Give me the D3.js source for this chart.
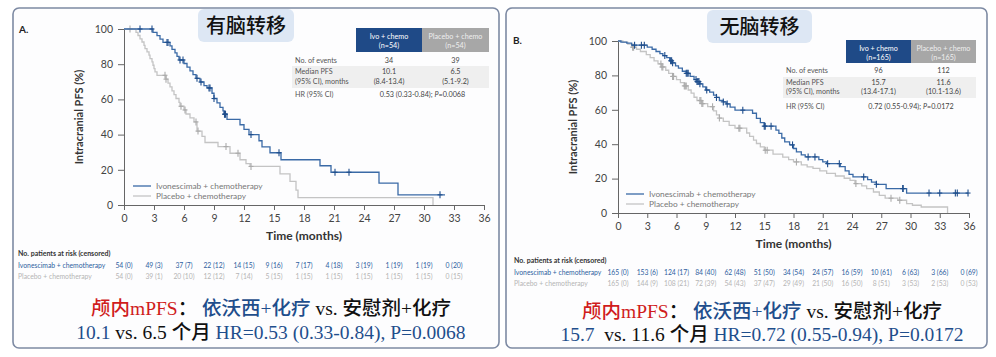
<!DOCTYPE html>
<html><head><meta charset="utf-8">
<script src="https://cdn.jsdelivr.net/npm/d3@7"></script>
<style>body{margin:0;background:#fff}svg{display:block}</style>
</head><body>
<svg id="c" width="996" height="357"></svg>
<script>
// ---------------- DATA ----------------
const xTicks = [0,3,6,9,12,15,18,21,24,27,30,33,36];
const yTicks = [0,20,40,60,80,100];
const riskMonths = [0,3,6,9,12,15,18,21,24,27,30,33];

// Panel A (with brain metastases): KM steps [month, survival %]
const A_ivo_steps = [[0,100],[2.9,98.1],[3.3,96.2],[3.6,94.3],[3.9,92.4],[4.6,90.4],[4.8,88.4],[5.1,86.4],[5.3,84.4],[5.5,82.4],[6.0,80.4],[6.3,78.3],[6.6,76.2],[6.9,74.1],[7.2,72.0],[7.6,69.9],[8.0,67.8],[8.3,66.5],[8.8,63.5],[9.0,60.5],[9.3,58.0],[9.6,55.5],[9.9,53.5],[10.0,51.6],[10.3,48.6],[11.6,45.6],[12.0,43.0],[12.5,40.0],[13.5,36.5],[13.8,33.0],[14.6,29.7],[15.7,25.7],[19.6,22.3],[20.7,18.6],[25.5,12.4],[27.4,5.8],[32.1,5.8]];
const A_ivo_censor = [1.6,2.8,4.3,4.4,5.6,5.9,7.3,7.7,8.5,8.6,9.0,10.05,10.1,10.15,12.7,15.5,21.1,22.5,31.6];
const A_pbo_steps = [[0,100],[1.2,98.1],[1.4,96.3],[1.6,94.4],[1.8,92.6],[2.0,90.7],[2.1,88.9],[2.3,87.0],[2.5,85.1],[2.6,83.2],[2.8,81.3],[2.9,79.4],[3.0,77.5],[3.1,75.6],[3.3,73.7],[4.2,71.5],[4.4,69.3],[4.6,67.1],[4.8,64.9],[5.0,62.7],[5.2,60.5],[5.5,58.3],[5.6,56.1],[6.0,54.0],[6.2,51.7],[6.6,49.5],[7.0,47.2],[7.3,42.0],[7.8,39.0],[8.1,35.5],[9.4,33.2],[10.6,29.4],[11.6,25.7],[12.2,23.5],[12.6,21.9],[15.6,17.7],[16.6,13.4],[17.2,8.5],[17.4,4.2],[30.9,0]];
const A_pbo_censor = [0.6,4.1,4.2,5.7,6.1,7.2,7.4,10.2,11.4,12.7];

// Panel B (without brain metastases)
const B_ivo_steps = [[0,100],[0.3,99.4],[0.9,98.8],[1.4,97.6],[3.0,96.4],[3.5,95.2],[3.9,93.9],[4.3,92.7],[4.6,91.5],[5.0,90.3],[5.3,88.5],[5.6,87.3],[5.9,85.5],[6.2,84.2],[6.6,82.4],[7.0,81.2],[7.4,79.4],[7.8,77.6],[8.1,76.4],[8.4,75.1],[8.7,73.3],[9.0,71.5],[9.4,70.3],[9.8,68.5],[10.1,67.2],[10.4,65.4],[10.8,64.6],[11.1,63.4],[11.5,61.6],[12.0,59.8],[13.8,58.0],[14.2,55.0],[14.6,52.6],[15.0,50.5],[16.2,48.2],[16.5,46.3],[16.8,43.6],[17.1,41.4],[17.6,39.6],[18.0,37.5],[18.3,35.5],[18.8,33.8],[19.2,32.6],[20.6,31.0],[21.0,29.7],[21.4,28.7],[22.8,27.0],[23.3,24.5],[23.7,22.5],[24.1,21.0],[25.6,19.4],[26.0,18.0],[26.5,16.7],[27.5,14.2],[29.6,11.6],[35.9,11.6]];
const B_ivo_censor = [1.7,2.4,2.7,4.8,5.4,5.5,5.6,7.0,7.1,7.2,8.0,8.1,8.2,8.3,8.4,9.1,10.1,10.8,11.2,12.8,15.0,15.1,15.7,17.9,19.5,20.2,21.5,22.7,25.2,26.5,29.2,29.25,31.9,33.0,34.6,34.8,35.9];
const B_pbo_steps = [[0,100],[0.5,99.4],[1.0,98.2],[1.4,96.4],[1.9,95.2],[2.3,93.9],[2.9,92.1],[3.3,90.3],[3.7,88.5],[4.1,86.7],[4.5,84.9],[4.9,83.0],[5.2,81.2],[5.6,79.4],[6.0,77.6],[6.4,75.8],[6.8,73.9],[7.2,71.5],[7.5,69.7],[7.8,67.3],[8.1,65.4],[8.6,63.6],[9.2,61.8],[9.8,59.4],[10.1,57.0],[10.4,55.2],[10.8,53.3],[11.4,51.0],[12.0,49.3],[13.2,46.5],[13.5,44.5],[13.9,42.4],[14.2,40.4],[14.6,38.4],[15.0,36.5],[15.9,34.2],[16.9,32.5],[17.5,31.0],[18.0,29.7],[18.8,28.0],[19.4,26.8],[20.0,25.9],[20.7,24.5],[21.4,23.0],[22.3,21.5],[23.2,20.2],[23.8,19.0],[24.3,17.1],[25.0,15.8],[25.5,14.2],[26.2,12.2],[26.8,10.3],[27.4,8.6],[28.7,7.4],[29.6,5.5],[30.2,4.5],[31.1,3.5],[33.8,0]];
const B_pbo_censor = [1.5,1.6,4.4,4.5,4.6,5.6,5.7,6.8,6.9,7.0,8.4,8.5,8.6,8.7,9.7,10.4,12.4,12.5,15.1,15.3,18.3,24.4,28.0,28.9];

// Risk tables
const A_risk_ivo = ["54 (0)","49 (3)","37 (7)","22 (12)","14 (15)","9 (16)","7 (17)","4 (18)","3 (19)","1 (19)","1 (19)","0 (20)"];
const A_risk_pbo = ["54 (0)","39 (1)","20 (10)","12 (12)","7 (14)","5 (15)","1 (15)","1 (15)","1 (15)","1 (15)","1 (15)","0 (15)"];
const B_risk_ivo = ["165 (0)","153 (6)","124 (17)","84 (40)","62 (48)","51 (50)","34 (54)","24 (57)","16 (59)","10 (61)","6 (63)","3 (66)","0 (69)"];
const B_risk_pbo = ["165 (0)","144 (9)","108 (21)","72 (39)","54 (43)","37 (47)","29 (49)","21 (50)","16 (50)","8 (51)","3 (53)","2 (53)","0 (53)"];
const riskMonthsB = [0,3,6,9,12,15,18,21,24,27,30,33,36];

// Summary tables
const tableRows = ["No. of events","Median PFS","(95% CI), months","HR (95% CI)"];
const A_table = {n:"(n=54)", events:["34","39"], median:["10.1","6.5"], ci:["(8.4-13.4)","(5.1-9.2)"], hr:"0.53 (0.33-0.84); ", p:"P", pv:"=0.0068"};
const B_table = {n:"(n=165)", events:["96","112"], median:["15.7","11.6"], ci:["(13.4-17.1)","(10.1-13.6)"], hr:"0.72 (0.55-0.94); ", p:"P", pv:"=0.0172"};

const A_bottom2 = [["10.1","#1f4e8c"],[" vs. 6.5 个月 ","#111"],["HR=0.53 (0.33-0.84), P=0.0068","#1f4e8c"]];
const B_bottom2 = [["15.7","#1f4e8c"],["  vs. 11.6 个月 ","#111"],["HR=0.72 (0.55-0.94), P=0.0172","#1f4e8c"]];
const bottom1 = [["颅内mPFS","#d01c1c"],["： ","#111"],["依沃西+化疗","#1f4e8c"],[" vs. ","#111"],["安慰剂+化疗","#111"]];

// ---------------- DRAW ----------------
const svg = d3.select("#c");
const F = "Lato, 'Open Sans', sans-serif";
const BLUE = "#3a6aa6", BLUE_D = "#1f4e8c", GRAY = "#c4c4c4", GRAY_D = "#ababab";

function survAt(steps, t){ let v = steps[0][1]; for(const s of steps){ if(s[0] <= t) v = s[1]; else break; } return v; }

function panel(cfg){
  const g = svg.append("g");
  g.append("rect").attr("x",cfg.box[0]).attr("y",cfg.box[1]).attr("width",cfg.box[2]).attr("height",cfg.box[3])
    .attr("rx",6).attr("fill","#fdfdfe").attr("stroke","#7d8aa3").attr("stroke-width",1.6);
  // title
  g.append("rect").attr("x",cfg.title[0]).attr("y",cfg.title[1]).attr("width",cfg.title[2]).attr("height",cfg.title[3])
    .attr("rx",6).attr("fill","#dde7f4");
  g.append("text").attr("x",cfg.title[0]+cfg.title[2]/2).attr("y",cfg.title[1]+cfg.title[3]/2+7)
    .attr("text-anchor","middle").attr("font-family","'Noto Sans CJK SC'").attr("font-weight",500).attr("font-size",20).attr("fill","#111").text(cfg.titleText);
  g.append("text").attr("x",cfg.label[0]).attr("y",cfg.label[1]).attr("font-family",F).attr("font-weight","bold")
    .attr("font-size",10).attr("fill","#222").text(cfg.labelText);

  const x = d3.scaleLinear().domain([0,36]).range([cfg.x0,cfg.x1]);
  const y = d3.scaleLinear().domain([0,100]).range([cfg.yb,cfg.yt]);

  const xa = g.append("g").attr("transform",`translate(0,${cfg.yb})`)
    .call(d3.axisBottom(x).tickValues(xTicks).tickSize(5).tickPadding(5));
  const ya = g.append("g").attr("transform",`translate(${cfg.x0},0)`)
    .call(d3.axisLeft(y).tickValues(yTicks).tickSize(6).tickPadding(5));
  [xa,ya].forEach(a=>{
    a.selectAll("path,line").attr("stroke","#666").attr("stroke-width",1);
    a.selectAll("text").attr("font-family",F).attr("font-size",10.5).attr("fill","#444");
  });
  g.append("text").attr("x",(cfg.x0+cfg.x1)/2).attr("y",cfg.yb+35).attr("text-anchor","middle")
    .attr("font-family",F).attr("font-weight","bold").attr("font-size",12).attr("fill","#333").text("Time (months)");
  g.append("text").attr("transform",`translate(${cfg.x0-41},${(cfg.yt+cfg.yb)/2}) rotate(-90)`).attr("text-anchor","middle")
    .attr("font-family",F).attr("font-weight","bold").attr("font-size",11).attr("fill","#333").text("Intracranial PFS (%)");

  const line = d3.line().x(d=>x(d[0])).y(d=>y(d[1])).curve(d3.curveStepAfter);
  const series = [[cfg.pbo,cfg.pboC,GRAY,GRAY_D],[cfg.ivo,cfg.ivoC,BLUE,BLUE_D]];
  series.forEach(([st,ce,col,dcol])=>{
    g.append("path").attr("d",line(st)).attr("fill","none").attr("stroke",col).attr("stroke-width",1.3);
    g.selectAll(null).data(ce).enter().append("line")
      .attr("x1",d=>x(d)).attr("x2",d=>x(d)).attr("y1",d=>y(survAt(st,d))-3.5).attr("y2",d=>y(survAt(st,d))+3.5)
      .attr("stroke",dcol).attr("stroke-width",1.1);
    g.selectAll(null).data(ce).enter().append("line")
      .attr("x1",d=>x(d)-2.5).attr("x2",d=>x(d)+2.5).attr("y1",d=>y(survAt(st,d))).attr("y2",d=>y(survAt(st,d)))
      .attr("stroke",dcol).attr("stroke-width",1.1);
  });
  // legend
  [["Ivonescimab + chemotherapy",BLUE],["Placebo + chemotherapy",GRAY]].forEach((d,i)=>{
    const ly = cfg.leg[1]+i*10;
    g.append("line").attr("x1",cfg.leg[0]).attr("x2",cfg.leg[0]+18).attr("y1",ly).attr("y2",ly).attr("stroke",d[1]).attr("stroke-width",1.3);
    g.append("text").attr("x",cfg.leg[0]+23).attr("y",ly+3).attr("font-family",F).attr("font-size",8.3).attr("fill","#777").text(d[0]);
  });

  // summary table
  const t = cfg.tab, T = cfg.tabData;
  g.append("rect").attr("x",t.c1).attr("y",t.h0).attr("width",t.c2-t.c1).attr("height",t.h1-t.h0).attr("fill","#1f4a87");
  g.append("rect").attr("x",t.c2).attr("y",t.h0).attr("width",t.c3-t.c2).attr("height",t.h1-t.h0).attr("fill","#a7a7a7");
  g.append("rect").attr("x",t.lx-3).attr("y",t.mb0).attr("width",t.c3-t.lx+3).attr("height",t.mb1-t.mb0).attr("fill","#efefef");
  const m1=(t.c1+t.c2)/2, m2=(t.c2+t.c3)/2, hm=(t.h0+t.h1)/2;
  const tt=(xx,yy,s,col,anc)=>g.append("text").attr("x",xx).attr("y",yy).attr("text-anchor",anc||"middle")
      .attr("font-family",F).attr("font-size",7.2).attr("fill",col).text(s);
  tt(m1,hm-1,"Ivo + chemo","#fff"); tt(m1,hm+8,T.n,"#fff");
  tt(m2,hm-1,"Placebo + chemo","#eee"); tt(m2,hm+8,T.n,"#eee");
  tt(t.lx,t.r1,tableRows[0],"#555","start"); tt(m1,t.r1,T.events[0],"#444"); tt(m2,t.r1,T.events[1],"#444");
  tt(t.lx,t.r2,tableRows[1],"#555","start"); tt(m1,t.r2,T.median[0],"#444"); tt(m2,t.r2,T.median[1],"#444");
  tt(t.lx,t.r2+9.5,tableRows[2],"#555","start"); tt(m1,t.r2+9.5,T.ci[0],"#444"); tt(m2,t.r2+9.5,T.ci[1],"#444");
  tt(t.lx,t.r3,tableRows[3],"#555","start");
  const hr = tt((t.c1+t.c3)/2,t.r3,"","#444");
  hr.append("tspan").text(T.hr); hr.append("tspan").attr("font-style","italic").text(T.p); hr.append("tspan").text(T.pv);

  // risk table
  g.append("text").attr("x",cfg.risk[0]).attr("y",cfg.risk[1]).attr("font-family",F).attr("font-weight","bold")
    .attr("font-size",7).attr("fill","#333").text("No. patients at risk (censored)");
  [[cfg.riskIvo,"#2f5f9e","Ivonescimab + chemotherapy"],[cfg.riskPbo,"#b5b5b5","Placebo + chemotherapy"]].forEach((r,i)=>{
    const ry = cfg.risk[1]+12+i*11;
    g.append("text").attr("x",cfg.risk[0]).attr("y",ry).attr("font-family",F).attr("font-size",6.8).attr("fill",r[1]).text(r[2]);
    g.selectAll(null).data(r[0]).enter().append("text").attr("x",(d,j)=>x(cfg.riskM[j])).attr("y",ry)
      .attr("text-anchor","middle").attr("font-family",F).attr("font-size",6.8).attr("fill",r[1]).text(d=>d);
  });

  // bottom text
  const FB = "'Liberation Serif','Noto Sans CJK SC',serif";
  const b1 = g.append("text").attr("x",cfg.bc).attr("y",cfg.b1y).attr("text-anchor","middle")
    .attr("font-family",FB).attr("font-weight",500).attr("font-size",19.5).attr("xml:space","preserve");
  bottom1.forEach(p=>b1.append("tspan").attr("fill",p[1]).text(p[0]));
  const b2 = g.append("text").attr("x",cfg.bc).attr("y",cfg.b2y).attr("text-anchor","middle")
    .attr("font-family",FB).attr("font-weight",500).attr("font-size",19.5).attr("xml:space","preserve");
  cfg.bottom2.forEach(p=>b2.append("tspan").attr("fill",p[1]).text(p[0]));
}

panel({box:[13,8,486,340], title:[198,9,96,33], titleText:"有脑转移", label:[19,33], labelText:"A.",
  x0:124, x1:484, yt:29, yb:205, ivo:A_ivo_steps, ivoC:A_ivo_censor, pbo:A_pbo_steps, pboC:A_pbo_censor,
  leg:[133,186], tab:{lx:295,c1:356,c2:422,c3:489,h0:28,h1:52,r1:62.5,mb0:66,mb1:88,r2:74,r3:97}, tabData:A_table,
  risk:[18,256], riskIvo:A_risk_ivo, riskPbo:A_risk_pbo, riskM:riskMonths, bc:271, b1y:315, b2y:339, bottom2:A_bottom2});

panel({box:[506,8,481,340], title:[707,10,105,33], titleText:"无脑转移", label:[513,44], labelText:"B.",
  x0:618, x1:969, yt:41, yb:213, ivo:B_ivo_steps, ivoC:B_ivo_censor, pbo:B_pbo_steps, pboC:B_pbo_censor,
  leg:[626,194], tab:{lx:786,c1:846,c2:911,c3:976,h0:40,h1:63,r1:73,mb0:77,mb1:98,r2:84.5,r3:108.5}, tabData:B_table,
  risk:[514,263], riskIvo:B_risk_ivo, riskPbo:B_risk_pbo, riskM:riskMonthsB, bc:762, b1y:318, b2y:341, bottom2:B_bottom2});
</script>
</body></html>
